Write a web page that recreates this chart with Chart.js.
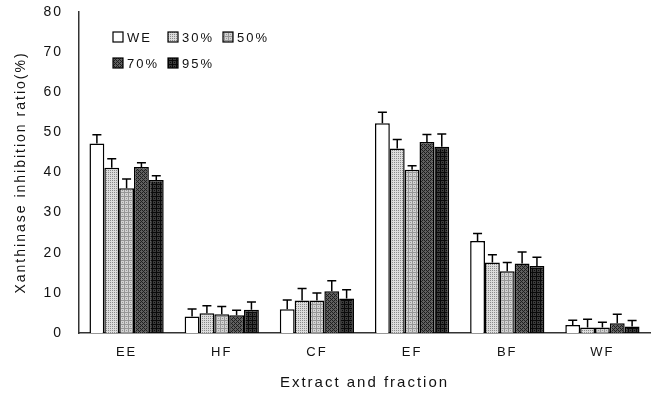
<!DOCTYPE html>
<html><head><meta charset="utf-8">
<script src="https://cdn.jsdelivr.net/npm/chart.js@4/dist/chart.umd.min.js"></script>
<style>html,body{margin:0;padding:0;background:#fff}#wrap{width:656px;height:398px}</style>
</head><body><div id="wrap"><canvas id="c" width="656" height="398"></canvas></div>
<script>
const categories = ["EE","HF","CF","EF","BF","WF"];
const seriesNames = ["WE","30%","50%","70%","95%"];
const valWE  = [47.2, 4.1, 5.9, 52.3, 22.9, 2.0];
const val30  = [41.2, 4.9, 8.1, 46.0, 17.6, 1.4];
const val50  = [36.1, 4.7, 8.1, 40.7, 15.4, 1.4];
const val70  = [41.4, 4.4, 10.4, 47.6, 17.3, 2.4];
const val95  = [38.1, 5.8, 8.6, 46.4, 16.7, 1.6];
const errWE  = [2.2, 1.9, 2.3, 2.7, 1.9, 1.2];
const err30  = [2.2, 1.9, 3.0, 2.2, 1.9, 2.0];
const err50  = [2.3, 1.9, 1.9, 1.0, 2.2, 1.3];
const err70  = [1.0, 1.3, 2.6, 1.9, 2.9, 2.3];
const err95  = [1.1, 1.9, 2.2, 3.2, 2.2, 1.5];
const yTicks = [0,10,20,30,40,50,60,70,80];

function pat(bg, fg, cells){
  const c=document.createElement('canvas'); c.width=4; c.height=4;
  const g=c.getContext('2d'); g.fillStyle=bg; g.fillRect(0,0,4,4);
  g.fillStyle=fg; cells.forEach(p=>g.fillRect(p[0],p[1],1,1));
  return g.createPattern(c,'repeat');
}
const fills = [
  '#ffffff',
  pat('#dcdcdc','#8a8a8a',[[0,0],[2,2],[2,0],[0,2]]),
  pat('#d2d2d2','#969696',[[0,0],[1,0],[2,0],[3,0],[0,2],[0,1],[0,3],[2,2]]),
  pat('#606060','#1e1e1e',[[0,0],[1,1],[2,2],[3,3],[0,2],[2,0]]),
  pat('#3a3a3a','#0a0a0a',[[0,0],[1,0],[2,0],[3,0],[0,2],[0,1],[0,3],[2,2]])
];
const vals=[valWE,val30,val50,val70,val95];
const errs=[errWE,err30,err50,err70,err95];

const errPlugin={id:'err',afterDatasetsDraw(chart){
  const ctx=chart.ctx, ys=chart.scales.y;
  ctx.save(); ctx.strokeStyle='#000'; ctx.lineWidth=1.5;
  chart.data.datasets.forEach((ds,i)=>{
    chart.getDatasetMeta(i).data.forEach((bar,j)=>{
      const top=ys.getPixelForValue(ds.data[j]+errs[i][j]);
      ctx.beginPath(); ctx.moveTo(bar.x,bar.y); ctx.lineTo(bar.x,top);
      ctx.moveTo(bar.x-4.5,top); ctx.lineTo(bar.x+4.5,top); ctx.stroke();
    });
  });
  ctx.restore();
}};
const spacing={id:'sp',beforeDraw(chart){chart.ctx.letterSpacing='2px';}};
const legendPlugin={id:'lg',afterDraw(chart){
  const ctx=chart.ctx; ctx.save(); ctx.letterSpacing='2px';
  ctx.font='13px "Liberation Sans", Arial, sans-serif'; ctx.fillStyle='#111';
  ctx.textBaseline='middle';
  const pos=[[113,37],[168,37],[223,37],[113,63],[168,63]];
  chart.data.datasets.forEach((ds,i)=>{
    const [x,y]=pos[i];
    ctx.fillStyle=ds.backgroundColor; ctx.fillRect(x,y-5,10,10);
    ctx.strokeStyle='#000'; ctx.lineWidth=1.2; ctx.strokeRect(x,y-5,10,10);
    ctx.fillStyle='#111'; ctx.fillText(ds.label,x+14,y+1);
  });
  ctx.restore();
}};

new Chart(document.getElementById('c'),{
  type:'bar',
  data:{labels:categories,datasets:seriesNames.map((n,i)=>({label:n,data:vals[i],backgroundColor:fills[i],borderColor:'#000',borderWidth:1.5,borderSkipped:'bottom'}))},
  options:{
    responsive:false,animation:false,devicePixelRatio:1,
    layout:{padding:{top:12,right:6,left:0,bottom:0}},
    datasets:{bar:{categoryPercentage:0.78,barPercentage:1}},
    plugins:{legend:{display:false},tooltip:{enabled:false}},
    scales:{
      x:{grid:{display:false,drawTicks:false},border:{color:'#333',width:1.5},
         ticks:{color:'#111',font:{family:'"Liberation Sans", Arial, sans-serif',size:13},padding:12},
         title:{display:true,text:'Extract and fraction',color:'#111',font:{family:'"Liberation Sans", Arial, sans-serif',size:15},padding:{top:0,bottom:6}},
         afterFit(s){s.height=65;s.paddingLeft=0;s.paddingRight=0;}},
      y:{min:0,max:80,grid:{display:false,drawTicks:false},border:{color:'#333',width:1.5},
         afterBuildTicks(s){s.ticks=yTicks.map(v=>({value:v}));},
         ticks:{color:'#111',font:{family:'"Liberation Sans", Arial, sans-serif',size:14},padding:16},
         title:{display:true,text:'Xanthinase inhibition ratio(%)',color:'#111',font:{family:'"Liberation Sans", Arial, sans-serif',size:14},padding:{top:13,bottom:0}},
         afterFit(s){s.width=79;s.paddingTop=0;s.paddingBottom=0;}}
    }
  },
  plugins:[spacing,errPlugin,legendPlugin]
});
</script></body></html>
